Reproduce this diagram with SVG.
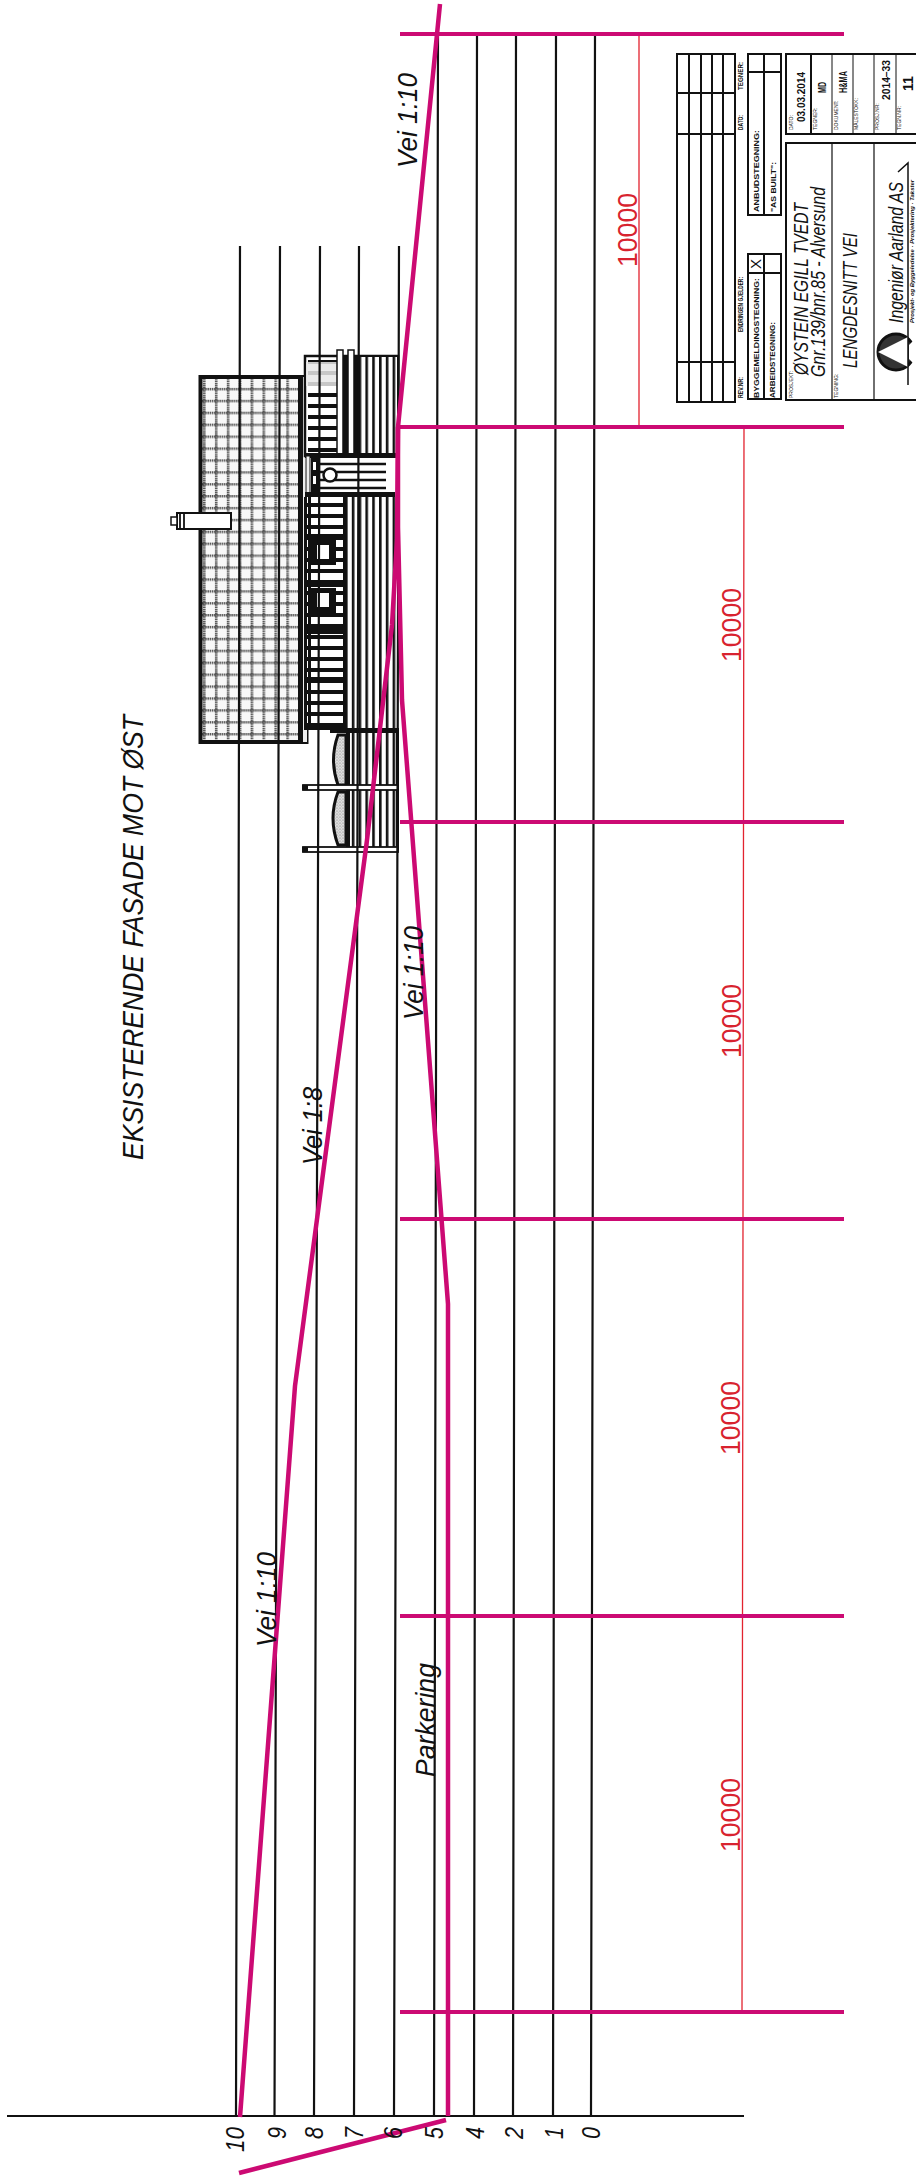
<svg xmlns="http://www.w3.org/2000/svg" width="916" height="2176" viewBox="0 0 916 2176">
<style>
text{font-family:"Liberation Sans",Arial,sans-serif;fill:#111}
.i{font-style:italic}
.b{font-weight:bold}
.k{stroke:#111;fill:none}
.g{stroke:#111;stroke-width:2.2;fill:none}
.m{stroke:#cc0a73;fill:none;stroke-linejoin:round}
.d{stroke:#cc0a73;stroke-width:4;fill:none}
.r{stroke:#e2232f;stroke-width:1.3;fill:none}
.rt{fill:#d8232f;font-size:28px}
.l{font-size:5px}
.h{font-size:8px;font-weight:bold}
.v{font-size:11px;font-weight:bold}
</style>
<defs>
<pattern id="tile" width="11.9" height="11.9" patternUnits="userSpaceOnUse" x="203" y="376">
<rect width="11.9" height="11.9" fill="#f8f8f8"/>
<path d="M0 1.3H11.9M1.3 0V11.9" stroke="#555" stroke-width="2.6" stroke-dasharray="1.5 .7"/>
</pattern>
<pattern id="hs" width="12" height="11" patternUnits="userSpaceOnUse" y="360">
<rect width="12" height="11" fill="#fff"/><rect width="12" height="4" fill="#111"/>
</pattern>
<pattern id="vs" width="6.8" height="12" patternUnits="userSpaceOnUse" x="345">
<rect width="6.8" height="12" fill="#fff"/><rect width="2.6" height="12" fill="#111"/>
</pattern>
<pattern id="sp" width="3" height="3" patternUnits="userSpaceOnUse">
<rect width="3" height="3" fill="#ddd"/><circle cx="1" cy="1" r=".6" fill="#777"/><circle cx="2.4" cy="2.2" r=".4" fill="#999"/>
</pattern>
</defs>

<g id="building">
<rect x="200.500" y="377" width="106" height="365" fill="url(#tile)" stroke="#111" stroke-width="4"/>
<rect x="298" y="377" width="5" height="365" fill="#111"/>
<rect x="303" y="377" width="4" height="365" fill="#eee"/>
<rect x="305" y="356" width="93" height="100" fill="#fff" stroke="#111" stroke-width="2.5"/>
<rect x="308" y="358" width="50" height="96" fill="url(#hs)"/>
<rect x="306" y="362" width="52" height="24" fill="#e8e8e8" opacity=".85"/>
<rect x="359" y="357" width="38" height="98" fill="url(#vs)"/>
<rect x="337" y="350" width="6" height="106" fill="#fff" stroke="#111" stroke-width="1.5"/>
<rect x="348" y="350" width="6" height="106" fill="#fff" stroke="#111" stroke-width="1.5"/>
<rect x="343" y="357" width="5" height="98" fill="#111"/>
<rect x="354" y="357" width="5" height="98" fill="#111"/>
<rect x="305" y="453" width="93" height="5" fill="#111"/>
<rect x="305" y="458" width="90" height="37" fill="#fff"/>
<path d="M318 464H386M318 472H386M318 480H386M318 488H386" class="k" stroke-width="2.5"/>
<rect x="306" y="456" width="4" height="40" fill="#eee" stroke="#111"/>
<rect x="311" y="458" width="9" height="37" fill="#111"/>
<rect x="313" y="462" width="3" height="8" fill="#fff"/><rect x="313" y="476" width="3" height="8" fill="#fff"/>
<rect x="387" y="460" width="9" height="32" fill="#fff"/>
<circle cx="330" cy="475" r="6.500" fill="#fff" stroke="#111" stroke-width="2.5"/>
<rect x="305" y="492" width="90" height="5" fill="#111"/>
<rect x="307" y="497" width="37" height="233" fill="url(#hs)"/>
<rect x="344" y="497" width="54" height="233" fill="url(#vs)"/>
<rect x="304" y="497" width="3" height="233" fill="#111"/>
<rect x="308" y="497" width="3" height="233" fill="#111"/>
<rect x="343" y="497" width="3" height="233" fill="#111"/>
<rect x="306" y="534" width="38" height="5" fill="#111"/>
<rect x="306" y="582" width="38" height="5" fill="#111"/>
<rect x="306" y="628" width="38" height="6" fill="#111"/>
<rect x="306" y="677" width="38" height="6" fill="#111"/>
<rect x="306" y="723" width="38" height="7" fill="#111"/>
<rect x="311" y="540" width="25" height="25" fill="#111"/><rect x="317" y="545" width="12" height="14" fill="#fff"/>
<rect x="311" y="588" width="25" height="25" fill="#111"/><rect x="317" y="593" width="12" height="14" fill="#fff"/>
<rect x="330" y="728" width="68" height="5" fill="#111"/>
<rect x="350" y="733" width="47" height="117" fill="url(#vs)"/>
<rect x="346" y="733" width="4" height="117" fill="#111"/>
<rect x="396" y="728" width="3" height="122" fill="#111"/>
<path d="M346 735H338Q329 760 338 785H346Z" fill="url(#sp)" stroke="#111" stroke-width="3"/>
<path d="M346 792H338Q328 818 338 845H346Z" fill="url(#sp)" stroke="#111" stroke-width="3"/>
<rect x="303" y="785" width="95" height="5" fill="#fff" stroke="#111" stroke-width="1.8"/>
<rect x="303" y="847" width="95" height="5" fill="#fff" stroke="#111" stroke-width="1.8"/>
<rect x="302" y="785" width="6" height="5" fill="#111"/>
<rect x="302" y="847" width="6" height="5" fill="#111"/>
<rect x="177" y="513" width="54" height="16" fill="#fff" stroke="#111" stroke-width="2"/>
<rect x="171" y="517" width="6" height="8" fill="#fff" stroke="#111" stroke-width="1.5"/>
<path d="M180 513V529M184 513V529" class="k" stroke-width="1.8"/>
</g>

<g id="grid">
<path class="g" d="M7 2116H744"/>
<path class="g" d="M240 246L236 2116M280 246L274.500 2116M320 246L314 2116M359 246L354 2116M399 246L394 2116"/>
<path class="g" d="M438 34L434 2116M477 34L474 2116M516 34L513 2116M556 34L553 2116M595 34L591 2116"/>
</g>

<g id="dimensions">
<path class="r" d="M639 34V427M744 427L742 2012"/>
<path class="d" d="M400 34H844M400 427H844M400 822H844M400 1219H844M400 1616H844M400 2012H844"/>
<text class="rt" transform="translate(637,267) rotate(-90)" textLength="74" lengthAdjust="spacingAndGlyphs">10000</text>
<text class="rt" transform="translate(741,662) rotate(-90)" textLength="74" lengthAdjust="spacingAndGlyphs">10000</text>
<text class="rt" transform="translate(741,1058) rotate(-90)" textLength="74" lengthAdjust="spacingAndGlyphs">10000</text>
<text class="rt" transform="translate(740,1455) rotate(-90)" textLength="74" lengthAdjust="spacingAndGlyphs">10000</text>
<text class="rt" transform="translate(740,1852) rotate(-90)" textLength="74" lengthAdjust="spacingAndGlyphs">10000</text>
</g>

<g id="roads">
<path class="m" stroke-width="4.5" d="M440 4L398 427L397 540L392 625L367 840L295 1386L240 2117"/>
<path class="m" stroke-width="4.5" d="M398 427L398 527L402 700L448 1304L448 2116"/>
<path class="m" stroke-width="4.5" d="M239 2173L446 2120"/>
</g>

<g id="labels">
<text class="i" font-size="29" transform="translate(143,1160) rotate(-90)" textLength="445" lengthAdjust="spacingAndGlyphs">EKSISTERENDE FASADE MOT ØST</text>
<text class="i" font-size="27" transform="translate(322,1165) rotate(-90)" textLength="78" lengthAdjust="spacingAndGlyphs">Vei 1:8</text>
<text class="i" font-size="27" transform="translate(423,1020) rotate(-90)" textLength="94" lengthAdjust="spacingAndGlyphs">Vei 1:10</text>
<text class="i" font-size="27" transform="translate(417,168) rotate(-90)" textLength="95" lengthAdjust="spacingAndGlyphs">Vei 1:10</text>
<text class="i" font-size="27" transform="translate(276,1647) rotate(-90)" textLength="95" lengthAdjust="spacingAndGlyphs">Vei 1:10</text>
<text class="i" font-size="27" transform="translate(435,1777) rotate(-90)" textLength="114" lengthAdjust="spacingAndGlyphs">Parkering</text>
<g class="i" font-size="26">
<text transform="translate(243.500,2152) rotate(-90)" textLength="25" lengthAdjust="spacingAndGlyphs">10</text>
<text transform="translate(285.500,2139) rotate(-90)" textLength="12" lengthAdjust="spacingAndGlyphs">9</text>
<text transform="translate(322.500,2139) rotate(-90)" textLength="12" lengthAdjust="spacingAndGlyphs">8</text>
<text transform="translate(362.500,2139) rotate(-90)" textLength="12" lengthAdjust="spacingAndGlyphs">7</text>
<text transform="translate(401.500,2139) rotate(-90)" textLength="12" lengthAdjust="spacingAndGlyphs">6</text>
<text transform="translate(442.500,2139) rotate(-90)" textLength="12" lengthAdjust="spacingAndGlyphs">5</text>
<text transform="translate(483.500,2139) rotate(-90)" textLength="12" lengthAdjust="spacingAndGlyphs">4</text>
<text transform="translate(522.500,2139) rotate(-90)" textLength="12" lengthAdjust="spacingAndGlyphs">2</text>
<text transform="translate(562.500,2139) rotate(-90)" textLength="12" lengthAdjust="spacingAndGlyphs">1</text>
<text transform="translate(599.500,2139) rotate(-90)" textLength="12" lengthAdjust="spacingAndGlyphs">0</text>
</g>
</g>

<g id="revision-table">
<path class="k" stroke-width="2" d="M677 54H735V402H677ZM689 54V402M701 54V402M712 54V402M723 54V402M677 93H735M677 134H735M677 362H735"/>
<text class="h" transform="translate(743,398) rotate(-90)" textLength="21" lengthAdjust="spacingAndGlyphs">REV.NR:</text>
<text class="h" transform="translate(743,332) rotate(-90)" textLength="55" lengthAdjust="spacingAndGlyphs">ENDRINGEN GJELDER:</text>
<text class="h" transform="translate(743,130) rotate(-90)" textLength="15" lengthAdjust="spacingAndGlyphs">DATO:</text>
<text class="h" transform="translate(743,90) rotate(-90)" textLength="28" lengthAdjust="spacingAndGlyphs">TEGNER:</text>
</g>
<g id="drawing-type">
<path class="k" stroke-width="2" d="M748 254H781V399H748ZM764 254V399M748 273H781"/>
<text class="h" transform="translate(759,398) rotate(-90)" textLength="120" lengthAdjust="spacingAndGlyphs">BYGGEMELDINGSTEGNING:</text>
<text class="h" transform="translate(775,398) rotate(-90)" textLength="76" lengthAdjust="spacingAndGlyphs">ARBEIDSTEGNING:</text>
<text font-size="15" transform="translate(761,269) rotate(-90)">X</text>
</g>
<g id="drawing-status">
<path class="k" stroke-width="2" d="M748 54H781V215H748ZM764 54V215M748 72H781"/>
<text class="h" transform="translate(759,212) rotate(-90)" textLength="82" lengthAdjust="spacingAndGlyphs">ANBUDSTEGNING:</text>
<text class="h" transform="translate(776,212) rotate(-90)" textLength="50" lengthAdjust="spacingAndGlyphs">"AS BUILT":</text>
</g>
<g id="info-block">
<path class="k" stroke-width="2" d="M916 54H786V134H916M811 54V134"/>
<path class="k" stroke-width="1" d="M832 54V134M853 54V134M874 54V134M896 54V134"/>
<text class="l" transform="translate(793,130) rotate(-90)">DATO:</text>
<text class="v" transform="translate(805,122) rotate(-90)" textLength="50" lengthAdjust="spacingAndGlyphs">03.03.2014</text>
<text class="l" transform="translate(817,130) rotate(-90)">TEGNER:</text>
<text class="v" transform="translate(826,93) rotate(-90)" textLength="11" lengthAdjust="spacingAndGlyphs">MD</text>
<text class="l" transform="translate(838,130) rotate(-90)">DOKUMENT:</text>
<text class="v" transform="translate(847,93) rotate(-90)" textLength="22" lengthAdjust="spacingAndGlyphs">H&amp;MA</text>
<text class="l" transform="translate(858,130) rotate(-90)">MÅLESTOKK:</text>
<text class="l" transform="translate(879,130) rotate(-90)">PROSJ.NR:</text>
<text class="v" transform="translate(890,100) rotate(-90)" textLength="40" lengthAdjust="spacingAndGlyphs">2014–33</text>
<text class="l" transform="translate(901,130) rotate(-90)">TEGN.NR:</text>
<text font-size="14" class="b" transform="translate(913,91) rotate(-90)">11</text>
</g>
<g id="title-block">
<path class="k" stroke-width="2" d="M916 143H786V400H916"/>
<path class="k" stroke-width="1.2" d="M832 143V400M874 143V400"/>
<text class="l" transform="translate(793,398) rotate(-90)">PROSJEKT:</text>
<text class="i" font-size="20" transform="translate(808,375) rotate(-90)" textLength="172" lengthAdjust="spacingAndGlyphs">ØYSTEIN EGILL TVEDT</text>
<text class="i" font-size="20" transform="translate(825,377) rotate(-90)" textLength="190" lengthAdjust="spacingAndGlyphs">Gnr.139/bnr.85 - Alversund</text>
<text class="l" transform="translate(838,398) rotate(-90)">TEGNING:</text>
<text class="i" font-size="20" transform="translate(857,368) rotate(-90)" textLength="135" lengthAdjust="spacingAndGlyphs">LENGDESNITT VEI</text>
<circle cx="896" cy="352" r="18" fill="#333" stroke="#111" stroke-width="3"/>
<path d="M878 352L908 337V367Z" fill="#fff"/>
<path d="M909 345L916 338V366L909 359Z" fill="#fff"/>
<text class="i" font-size="21" transform="translate(903,323) rotate(-90)" textLength="141" lengthAdjust="spacingAndGlyphs">Ingeniør Aarland AS</text>
<path class="k" stroke-width="1.5" d="M898 172L908 163V385"/>
<text class="i b" font-size="4.500" transform="translate(914,323) rotate(-90)" textLength="143" lengthAdjust="spacingAndGlyphs">Prosjekt- og Byggeledelse · Prosjektering · Takster</text>
</g>
</svg>
